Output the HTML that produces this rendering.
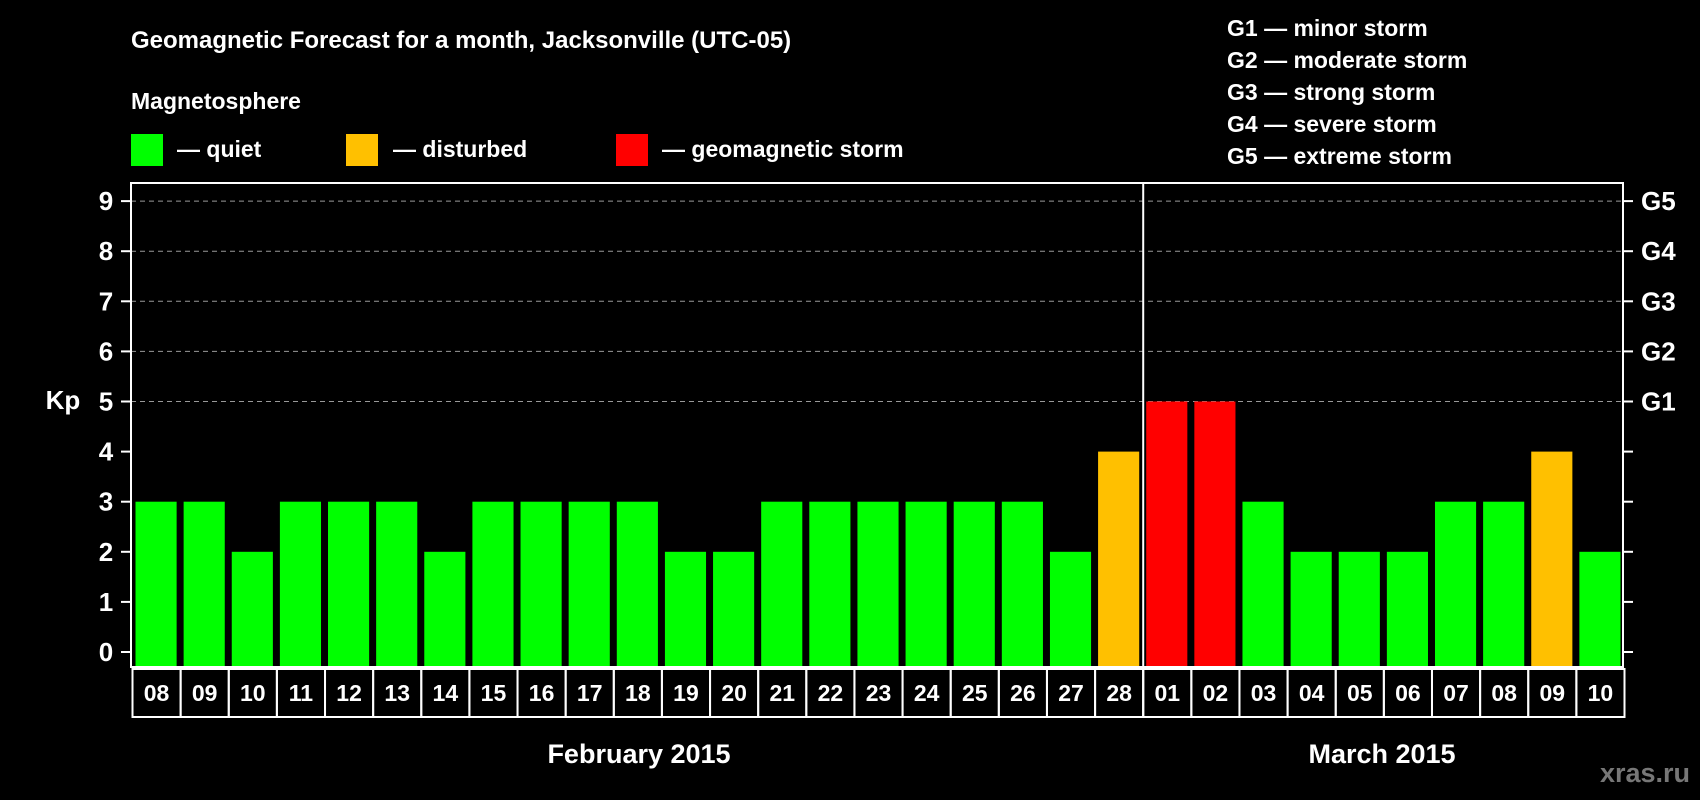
<!DOCTYPE html>
<html><head><meta charset="utf-8"><style>
html,body{margin:0;padding:0;background:#000;}
svg{display:block;font-family:"Liberation Sans",Arial,sans-serif;font-weight:bold;}
</style></head><body>
<svg width="1700" height="800" viewBox="0 0 1700 800">
<rect width="1700" height="800" fill="#000"/>
<text x="131" y="48" fill="#fff" font-size="24">Geomagnetic Forecast for a month, Jacksonville (UTC-05)</text>
<text x="131" y="109" fill="#fff" font-size="23">Magnetosphere</text>
<g>
<rect x="131" y="134" width="32" height="32" fill="#00ff00"/>
<text x="177" y="157" fill="#fff" font-size="23">— quiet</text>
<rect x="346" y="134" width="32" height="32" fill="#ffc000"/>
<text x="393" y="157" fill="#fff" font-size="23">— disturbed</text>
<rect x="616" y="134" width="32" height="32" fill="#ff0000"/>
<text x="662" y="157" fill="#fff" font-size="23">— geomagnetic storm</text>
</g>
<g fill="#fff" font-size="23">
<text x="1227" y="36">G1 — minor storm</text>
<text x="1227" y="68">G2 — moderate storm</text>
<text x="1227" y="100">G3 — strong storm</text>
<text x="1227" y="132">G4 — severe storm</text>
<text x="1227" y="164">G5 — extreme storm</text>
</g>
<text x="63" y="409" fill="#fff" font-size="26" text-anchor="middle">Kp</text>
<g id="plot"></g>
<text x="639" y="763" fill="#fff" font-size="27" text-anchor="middle">February 2015</text>
<text x="1382" y="763" fill="#fff" font-size="27" text-anchor="middle">March 2015</text>
<text x="1690" y="782" fill="#777" font-size="27" text-anchor="end">xras.ru</text>
</svg>
<script>
const days=["08","09","10","11","12","13","14","15","16","17","18","19","20","21","22","23","24","25","26","27","28","01","02","03","04","05","06","07","08","09","10"];
const kp=[3,3,2,3,3,3,2,3,3,3,3,2,2,3,3,3,3,3,3,2,4,5,5,3,2,2,2,3,3,4,2];
const yTicks=["0","1","2","3","4","5","6","7","8","9"];
const gLabels=["G1","G2","G3","G4","G5"];
const L=131,R=1623,T=183,B=667,Y0=652,unit=50.1;
const slot=(R-L)/days.length;
const NS="http://www.w3.org/2000/svg";
const g=document.getElementById('plot');
function y(v){return Y0-v*unit;}
function mk(t,a,p){const e=document.createElementNS(NS,t);for(const k in a)e.setAttribute(k,a[k]);(p||g).appendChild(e);return e;}
function color(v){return v>=5?"#ff0000":v>=4?"#ffc000":"#00ff00";}
// grid
for(let i=5;i<=9;i++){
const l=mk('line',{x1:L,x2:R,y1:y(i),y2:y(i),stroke:"#999","stroke-dasharray":"5,4","stroke-width":1});


}
// bars
kp.forEach((v,i)=>{
const r=mk('rect',{x:L+i*slot+4.5,y:y(v),width:slot-7,height:Y0-y(v)+14,fill:color(v)});


});
// frame
const f=mk('rect',{x:L,y:T,width:R-L,height:B-T,fill:"none",stroke:"#fff","stroke-width":2});


// y ticks
yTicks.forEach((t,i)=>{
mk('line',{x1:L-10,x2:L,y1:y(i),y2:y(i),stroke:"#fff","stroke-width":2});
mk('line',{x1:R,x2:R+10,y1:y(i),y2:y(i),stroke:"#fff","stroke-width":2});
const tx=mk('text',{x:106,y:y(i)+9,fill:"#fff","font-size":26,"text-anchor":"middle"});
tx.textContent=t;


});
gLabels.forEach((t,i)=>{
const tx=mk('text',{x:1641,y:y(5+i)+9,fill:"#fff","font-size":26});
tx.textContent=t;


});
// date row
const DT=B+2,DB=717;
days.forEach((d,i)=>{
const x0=L+i*slot+4.5;
const r=mk('rect',{x:x0-3,y:DT,width:slot,height:DB-DT,fill:"none",stroke:"#fff","stroke-width":2});


const tx=mk('text',{x:x0-3+slot/2,y:DT+32,fill:"#fff","font-size":23,"text-anchor":"middle"});
tx.textContent=d;


});
// month separator
const si=days.indexOf("01");
const sx=L+si*slot+1.5;
const sl=mk('line',{x1:sx,x2:sx,y1:T,y2:DB,stroke:"#fff","stroke-width":2});


</script>
</body></html>
